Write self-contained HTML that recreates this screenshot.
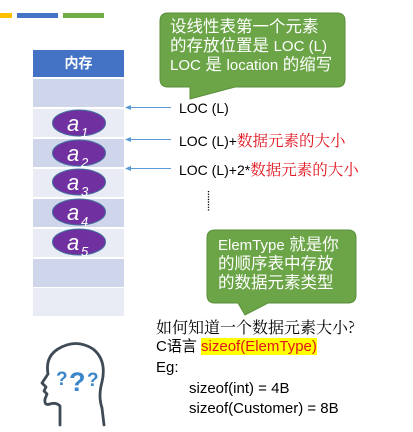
<!DOCTYPE html>
<html><head><meta charset="utf-8"><style>
body{margin:0;width:413px;height:432px;background:#fff;position:relative;overflow:hidden;font-family:"Liberation Sans","Noto Sans CJK SC",sans-serif;}
.a{position:absolute;}
.row{position:absolute;left:33px;width:91px;height:28px;}
.t{position:absolute;font-size:14px;color:#000;white-space:nowrap;line-height:18px;}
.r{color:#e0141e;font-family:"Noto Serif CJK SC","Liberation Serif",serif;font-size:15.5px;}
.cw{position:absolute;color:#fff;font-size:16.5px;line-height:19px;white-space:nowrap;}
.cw span{font-size:15px;}
</style></head><body>
<div class="a" style="left:0;top:13px;width:12px;height:5px;background:#FFC000"></div>
<div class="a" style="left:17px;top:13px;width:41px;height:5px;background:#4472C4"></div>
<div class="a" style="left:63px;top:13px;width:41px;height:5px;background:#70AD47"></div>

<div class="a" style="left:33px;top:50px;width:91px;height:27px;background:#4472C4;color:#fff;font-weight:bold;font-size:14px;text-align:center;line-height:27px;">内存</div>
<div class="row" style="top:79px;background:#CFD5EA"></div>
<div class="row" style="top:109px;background:#E9EBF5"></div>
<div class="row" style="top:139px;background:#CFD5EA"></div>
<div class="row" style="top:169px;background:#E9EBF5"></div>
<div class="row" style="top:199px;background:#CFD5EA"></div>
<div class="row" style="top:229px;background:#E9EBF5"></div>
<div class="row" style="top:259px;background:#CFD5EA"></div>
<div class="row" style="top:288px;background:#E9EBF5"></div>

<svg class="a" style="left:0;top:0" width="413" height="432">
<g fill="#7030A0" stroke="#41719C" stroke-width="1">
<ellipse cx="79" cy="123" rx="26.5" ry="13"/>
<ellipse cx="79" cy="153" rx="26.5" ry="13"/>
<ellipse cx="79" cy="182" rx="26.5" ry="13"/>
<ellipse cx="79" cy="212" rx="26.5" ry="13"/>
<ellipse cx="79" cy="242" rx="26.5" ry="13"/>
</g>
<g fill="#fff" font-family="Liberation Sans,sans-serif" font-style="italic">
<text x="67" y="131" font-size="22">a</text><text x="81" y="137" font-size="13">1</text>
<text x="67" y="161" font-size="22">a</text><text x="81" y="167" font-size="13">2</text>
<text x="67" y="190" font-size="22">a</text><text x="81" y="196" font-size="13">3</text>
<text x="67" y="220" font-size="22">a</text><text x="81" y="226" font-size="13">4</text>
<text x="67" y="250" font-size="22">a</text><text x="81" y="256" font-size="13">5</text>
</g>
<g stroke="#5B9BD5" stroke-width="1">
<line x1="130" y1="107.5" x2="171" y2="107.5"/>
<line x1="130" y1="139.5" x2="171" y2="139.5"/>
<line x1="130" y1="168.5" x2="171" y2="168.5"/>
</g>
<g fill="#5B9BD5">
<polygon points="125,107.5 131,105 131,110"/>
<polygon points="125,139.5 131,137 131,142"/>
<polygon points="125,168.5 131,166 131,171"/>
</g>
<line x1="208.5" y1="191" x2="208.5" y2="211" stroke="#000" stroke-width="1.3" stroke-dasharray="1.3,1.3"/>
<path d="M168,13 H337 Q345,13 345,21 V79 Q345,87 337,87 H235 L190,99 V87 H168 Q160,87 160,79 V21 Q160,13 168,13 Z" fill="#6BA547" stroke="#5A8F3B" stroke-width="1"/>
<path d="M215,230 H348 Q356,230 356,238 V295 Q356,303 348,303 H268 L245,315 L238,303 H215 Q207,303 207,295 V238 Q207,230 215,230 Z" fill="#6BA547" stroke="#5A8F3B" stroke-width="1"/>
<g fill="none" stroke="#3E4A55" stroke-width="2.8" stroke-linecap="round" stroke-linejoin="round">
<path d="M60,425 V406 Q56,402 50,404 Q44,406 45,399 L47,394 L44,391 L46,387 L42,383 L48,374 Q45,357 58,349 Q76,338 93,349 Q107,360 102,382 Q98,396 102,408 L104,425"/>
</g>
<g fill="#3A86C8" font-family="Liberation Sans,sans-serif" font-weight="bold">
<text x="56" y="385" font-size="19">?</text>
<text x="69" y="391" font-size="27">?</text>
<text x="87" y="386" font-size="19">?</text>
</g>
</svg>

<div class="cw" style="left:170px;top:18px">设线性表第一个元素</div>
<div class="cw" style="left:170px;top:37px">的存放位置是 <span>LOC (L)</span></div>
<div class="cw" style="left:170px;top:56px"><span>LOC</span> 是 <span>location</span> 的缩写</div>

<div class="cw" style="left:218px;top:236px"><span>ElemType</span> 就是你</div>
<div class="cw" style="left:218px;top:255px">的顺序表中存放</div>
<div class="cw" style="left:218px;top:274px">的数据元素类型</div>

<div class="t" style="left:179px;top:99px">LOC (L)</div>
<div class="t" style="left:179px;top:131px">LOC (L)+<span class="r">数据元素的大小</span></div>
<div class="t" style="left:179px;top:160px">LOC (L)+2*<span class="r">数据元素的大小</span></div>

<div class="t" style="left:156px;top:318px;font-size:16px;font-family:'Noto Serif CJK SC','Liberation Serif',serif;">如何知道一个数据元素大小?</div>
<div class="t" style="left:156px;top:338px;font-size:15px">C语言 <span style="background:#FFFF00;color:#e0141e;">sizeof(ElemType)</span></div>
<div class="t" style="left:156px;top:359px;font-size:15px">Eg:</div>
<div class="t" style="left:189px;top:380px;font-size:15px">sizeof(int) = 4B</div>
<div class="t" style="left:189px;top:400px;font-size:15px">sizeof(Customer) = 8B</div>
</body></html>
